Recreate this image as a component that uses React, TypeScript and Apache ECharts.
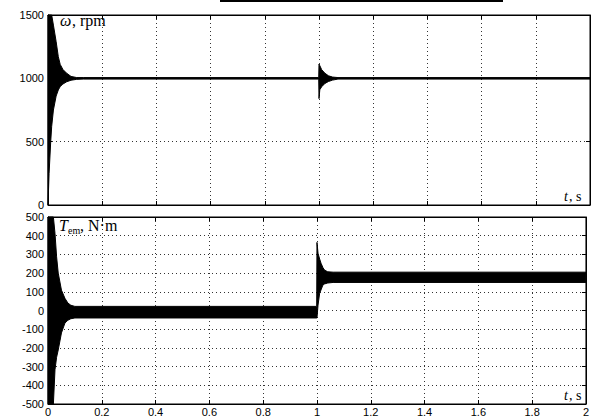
import React, { useEffect, useRef } from "react";
import * as echarts from "echarts";

// Time axis ticks (s)
const timeTicks = [0, 0.2, 0.4, 0.6, 0.8, 1, 1.2, 1.4, 1.6, 1.8, 2];

// Speed ω (rpm): envelope of the oscillating trace
const omegaTime = [0, 0.004, 0.01, 0.0136, 0.02, 0.03, 0.038, 0.045, 0.055, 0.069, 0.085, 0.106, 0.13, 0.999, 1.0, 1.003, 1.01, 1.022, 1.035, 1.05, 1.07, 2.0];
const omegaUpper = [1700, 1700, 1700, 1700, 1420, 1290, 1171, 1110, 1070, 1040, 1015, 1006, 1006, 1006, 1113, 1100, 1068, 1040, 1020, 1010, 1006, 1006];
const omegaLower = [0, 250, 500, 620, 750, 860, 908, 935, 955, 973, 985, 992, 994, 994, 840, 910, 934, 960, 975, 986, 994, 994];

// Torque Tem (N·m): envelope of the oscillating trace
const torqueTime = [0, 0.02, 0.026, 0.032, 0.038, 0.05, 0.063, 0.074, 0.085, 0.1, 0.999, 1.0, 1.004, 1.01, 1.015, 1.022, 1.028, 1.04, 1.06, 2.0];
const torqueUpper = [600, 600, 413, 287, 200, 109, 65, 40, 28, 22, 22, 364, 306, 275, 253, 230, 216, 207, 205, 205];
const torqueLower = [-600, -600, -317, -250, -211, -120, -67, -52, -44, -40, -40, -40, 29, 93, 110, 136, 142, 147, 150, 150];

const omegaTicks = [0, 500, 1000, 1500];
const torqueTicks = [-500, -400, -300, -200, -100, 0, 100, 200, 300, 400, 500];

const labelFont = { fontFamily: "Liberation Sans", fontSize: 11, color: "#000" };
const gridLine = { show: true, lineStyle: { color: "#333", width: 1, type: [1, 3] as any } };

function xAxis(gridIndex: number, position: string, labels: boolean, split: boolean) {
  return {
    type: "value",
    gridIndex,
    position,
    min: timeTicks[0],
    max: timeTicks[timeTicks.length - 1],
    interval: 0.2,
    axisLine: { show: true, onZero: false, lineStyle: { color: "#000", width: 1 } },
    axisTick: { show: true, inside: true, length: 4, lineStyle: { color: "#000" } },
    axisLabel: {
      show: labels,
      margin: 2,
      ...labelFont,
      formatter: (v: number) => String(Math.round(v * 10) / 10),
    },
    splitLine: split ? gridLine : { show: false },
  };
}

function yAxis(gridIndex: number, position: string, ticks: number[], labels: boolean, split: boolean) {
  return {
    type: "value",
    gridIndex,
    position,
    min: ticks[0],
    max: ticks[ticks.length - 1],
    interval: ticks[1] - ticks[0],
    axisLine: { show: true, onZero: false, lineStyle: { color: "#000", width: 1 } },
    axisTick: { show: true, inside: true, length: 4, lineStyle: { color: "#000" } },
    axisLabel: { show: labels, margin: 4, ...labelFont, formatter: (v: number) => String(v) },
    splitLine: split ? gridLine : { show: false },
  };
}

function band(name: string, xi: number, yi: number, t: number[], up: number[], lo: number[]) {
  return {
    type: "custom",
    name,
    xAxisIndex: xi,
    yAxisIndex: yi,
    data: t.map((x, i) => [x, lo[i], up[i]]),
    encode: { x: 0, y: [1, 2] },
    renderItem: (params: any, api: any) => {
      if (params.dataIndex !== 0) return null;
      const cs = params.coordSys;
      const clampY = (y: number) => Math.max(cs.y, Math.min(cs.y + cs.height, y));
      const pts: number[][] = [];
      for (let i = 0; i < t.length; i++) {
        const p = api.coord([t[i], up[i]]);
        pts.push([p[0], clampY(p[1])]);
      }
      for (let i = t.length - 1; i >= 0; i--) {
        const p = api.coord([t[i], lo[i]]);
        pts.push([p[0], clampY(p[1])]);
      }
      return {
        type: "polygon",
        shape: { points: pts },
        style: { fill: "#000", stroke: "#000", lineWidth: 1 },
      };
    },
  };
}

const serif = "Liberation Serif";

export default function App() {
  const ref = useRef<HTMLDivElement>(null);
  useEffect(() => {
    if (!ref.current) return;
    const chart = echarts.init(ref.current, undefined, { renderer: "svg" });
    chart.setOption({
      animation: false,
      backgroundColor: "#fff",
      grid: [
        { left: 48, top: 15, width: 542, height: 190, show: true, borderColor: "#000", borderWidth: 1 },
        { left: 48, top: 217, width: 542, height: 187, show: true, borderColor: "#000", borderWidth: 1 },
      ],
      xAxis: [
        xAxis(0, "bottom", false, true),
        xAxis(0, "top", false, false),
        xAxis(1, "bottom", true, true),
        xAxis(1, "top", false, false),
      ],
      yAxis: [
        yAxis(0, "left", omegaTicks, true, true),
        yAxis(0, "right", omegaTicks, false, false),
        yAxis(1, "left", torqueTicks, true, true),
        yAxis(1, "right", torqueTicks, false, false),
      ],
      series: [
        band("omega", 0, 0, omegaTime, omegaUpper, omegaLower),
        band("torque", 2, 2, torqueTime, torqueUpper, torqueLower),
      ],
      graphic: [
        { type: "line", shape: { x1: 220, y1: 1, x2: 503, y2: 1 }, style: { stroke: "#000", lineWidth: 2 } },
        {
          type: "text", x: 60, y: 28, z: 101,
          style: { text: "ω", fontFamily: serif, fontStyle: "italic", fontSize: 16, fill: "#000", verticalAlign: "bottom" },
        },
        {
          type: "text", x: 72, y: 28, z: 101,
          style: { text: ", rpm", fontFamily: serif, fontSize: 16, fill: "#000", verticalAlign: "bottom" },
        },
        {
          type: "text", x: 59, y: 233, z: 101,
          style: { text: "T", fontFamily: serif, fontStyle: "italic", fontSize: 16, fill: "#000", verticalAlign: "bottom" },
        },
        {
          type: "text", x: 68, y: 235, z: 101,
          style: { text: "em", fontFamily: serif, fontSize: 10, fill: "#000", verticalAlign: "bottom" },
        },
        {
          type: "text", x: 80, y: 233, z: 101,
          style: { text: ", N·m", fontFamily: serif, fontSize: 16, fill: "#000", verticalAlign: "bottom" },
        },
        {
          type: "text", x: 564, y: 203, z: 101,
          style: { text: "t", fontFamily: serif, fontStyle: "italic", fontSize: 14, fill: "#000", verticalAlign: "bottom" },
        },
        {
          type: "text", x: 569, y: 203, z: 101,
          style: { text: ", s", fontFamily: serif, fontSize: 14, fill: "#000", verticalAlign: "bottom" },
        },
        {
          type: "text", x: 564, y: 402, z: 101,
          style: { text: "t", fontFamily: serif, fontStyle: "italic", fontSize: 14, fill: "#000", verticalAlign: "bottom" },
        },
        {
          type: "text", x: 569, y: 402, z: 101,
          style: { text: ", s", fontFamily: serif, fontSize: 14, fill: "#000", verticalAlign: "bottom" },
        },
      ],
    });
    return () => chart.dispose();
  }, []);
  return <div ref={ref} style={{ position: "absolute", left: 0, top: 0, width: 592, height: 418 }} />;
}
